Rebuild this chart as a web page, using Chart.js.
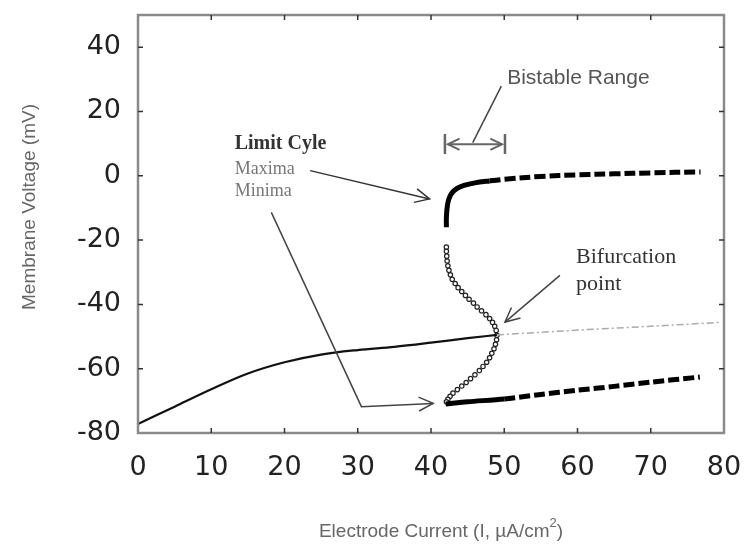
<!DOCTYPE html>
<html>
<head>
<meta charset="utf-8">
<script src="https://cdn.jsdelivr.net/npm/chart.js@4.4.1/dist/chart.umd.min.js"></script>
<style>
  html, body { margin: 0; padding: 0; background: #fff; }
</style>
</head>
<body>
<canvas id="chart" width="752" height="550"></canvas>
<script>
// resting potential (stable fixed point) up to the bifurcation
const restX = [0, 5, 10, 15, 20, 25, 30, 35, 40, 45, 49];
const restV = [-77.2, -71.8, -66.4, -61.5, -58, -55.6, -54.2, -53.2, -51.9, -50.5, -49.5];

// fixed point after it loses stability
const unstableX = [49, 60, 70, 79.5];
const unstableV = [-49.5, -48, -46.8, -45.6];

// stable limit cycle maxima / minima
const maxX = [42.1, 42.1, 42.2, 42.4, 42.8, 43.5, 44.5, 46, 48, 50, 55, 60, 65, 70, 76.8];
const maxV = [-16, -13, -10, -7.5, -5.5, -4, -3, -2.2, -1.6, -1.1, -0.2, 0.3, 0.6, 0.9, 1.2];
const minX = [42, 45, 50, 55, 60, 65, 70, 76.7];
const minV = [-71, -70.3, -69.4, -68, -66.7, -65.5, -64.2, -62.6];

// unstable limit cycle (open circles)
const cycX = [42.1, 42.1, 42.15, 42.2, 42.3, 42.45, 42.65, 42.9, 43.3, 43.7, 44.2, 44.7, 45.2, 45.8, 46.3,
              46.9, 47.5, 48, 48.4, 48.7, 48.9, 49, 48.95, 48.8, 48.6, 48.3, 48, 47.6, 47.1, 46.6,
              46, 45.4, 44.8, 44.2, 43.6, 43, 42.6, 42.3, 42.1];
const cycV = [-22.2, -23.5, -25, -26.5, -28, -29.4, -30.8, -32.2, -33.5, -34.8, -36, -37.2, -38.4, -39.6, -40.8,
              -42, -43.2, -44.4, -45.6, -46.8, -48.1, -49.6, -51, -52.4, -53.8, -55.2, -56.6, -58, -59.3, -60.6,
              -61.9, -63.1, -64.3, -65.4, -66.5, -67.6, -68.6, -69.5, -70.3];

const xTicks = [0, 10, 20, 30, 40, 50, 60, 70, 80];
const yTicks = [-80, -60, -40, -20, 0, 20, 40];

const pts = (xs, ys) => xs.map((x, i) => ({ x: x, y: ys[i] }));

// annotation anchors, in data units
const notes = [
    { text: "Bistable Range", x: 50.4, y: 30.4, font: "21px 'Liberation Sans'", color: "#555" },
    { text: "Limit Cyle", x: 13.2, y: 10, font: "bold 20px 'Liberation Serif'", color: "#333" },
    { text: "Maxima", x: 13.2, y: 2.1, font: "18px 'Liberation Serif'", color: "#777" },
    { text: "Minima", x: 13.2, y: -4.9, font: "18px 'Liberation Serif'", color: "#777" },
    { text: "Bifurcation", x: 59.8, y: -25.4, font: "22px 'Liberation Serif'", color: "#333" },
    { text: "point", x: 59.8, y: -33.6, font: "22px 'Liberation Serif'", color: "#333" }
];
const arrows = [
    { path: [[23.5, 1.6], [39.8, -7.2]], color: "#333" },
    { path: [[18.2, -11.4], [30.5, -71.8], [40.3, -70.8]], color: "#444" },
    { path: [[57.6, -31], [50.1, -45.5]], color: "#444" }
];

function head(ctx, x0, y0, x1, y1, len) {
    const a = Math.atan2(y1 - y0, x1 - x0);
    ctx.beginPath();
    ctx.moveTo(x1 - len * Math.cos(a - 0.45), y1 - len * Math.sin(a - 0.45));
    ctx.lineTo(x1, y1);
    ctx.lineTo(x1 - len * Math.cos(a + 0.45), y1 - len * Math.sin(a + 0.45));
    ctx.stroke();
}

const decor = {
    id: "decor",
    afterDatasetsDraw(chart) {
        const ctx = chart.ctx;
        const xs = chart.scales.x, ys = chart.scales.y;
        const area = chart.chartArea;
        const X = v => xs.getPixelForValue(v), Y = v => ys.getPixelForValue(v);
        ctx.save();

        // frame
        ctx.strokeStyle = "#8a8a8a";
        ctx.lineWidth = 2.5;
        ctx.strokeRect(area.left, area.top, area.right - area.left, area.bottom - area.top);

        // inward tick marks on all four sides
        ctx.strokeStyle = "#333";
        ctx.lineWidth = 1.5;
        ctx.beginPath();
        xTicks.slice(1, -1).forEach(v => {
            ctx.moveTo(X(v), area.bottom); ctx.lineTo(X(v), area.bottom - 5);
            ctx.moveTo(X(v), area.top); ctx.lineTo(X(v), area.top + 5);
        });
        yTicks.slice(1).forEach(v => {
            ctx.moveTo(area.left, Y(v)); ctx.lineTo(area.left + 5, Y(v));
            ctx.moveTo(area.right, Y(v)); ctx.lineTo(area.right - 5, Y(v));
        });
        ctx.stroke();

        // text notes
        ctx.textAlign = "left";
        ctx.textBaseline = "middle";
        notes.forEach(n => {
            ctx.font = n.font;
            ctx.fillStyle = n.color;
            ctx.fillText(n.text, X(n.x), Y(n.y));
        });

        // arrows
        ctx.lineWidth = 1.5;
        arrows.forEach(a => {
            ctx.strokeStyle = a.color;
            ctx.beginPath();
            a.path.forEach((p, i) => i ? ctx.lineTo(X(p[0]), Y(p[1])) : ctx.moveTo(X(p[0]), Y(p[1])));
            ctx.stroke();
            const p0 = a.path[a.path.length - 2], p1 = a.path[a.path.length - 1];
            head(ctx, X(p0[0]), Y(p0[1]), X(p1[0]), Y(p1[1]), 16);
        });

        // bistable range marker |<-->|
        ctx.strokeStyle = "#666";
        ctx.lineWidth = 2.5;
        ctx.beginPath();
        [41.9, 50.1].forEach(v => { ctx.moveTo(X(v), Y(13)); ctx.lineTo(X(v), Y(6.8)); });
        ctx.stroke();
        ctx.lineWidth = 2;
        ctx.beginPath();
        ctx.moveTo(X(42.3), Y(9.8)); ctx.lineTo(X(49.7), Y(9.8));
        ctx.stroke();
        head(ctx, X(49.7), Y(9.8), X(42.3), Y(9.8), 13);
        head(ctx, X(42.3), Y(9.8), X(49.7), Y(9.8), 13);
        ctx.lineWidth = 1.5;
        ctx.strokeStyle = "#444";
        ctx.beginPath();
        ctx.moveTo(X(49.6), Y(27.9)); ctx.lineTo(X(45.7), Y(10.3));
        ctx.stroke();

        // axis titles
        ctx.fillStyle = "#666";
        ctx.font = "19px 'Liberation Sans'";
        ctx.textAlign = "center";
        ctx.save();
        ctx.translate(30, 207);
        ctx.rotate(-Math.PI / 2);
        ctx.fillText("Membrane Voltage (mV)", 0, 0);
        ctx.restore();

        const main = "Electrode Current (I, \u00b5A/cm";
        ctx.font = "19px 'Liberation Sans'";
        const w1 = ctx.measureText(main).width;
        const w2 = ctx.measureText(")").width;
        ctx.font = "13px 'Liberation Sans'";
        const ws = ctx.measureText("2").width;
        const x0 = 441 - (w1 + ws + w2) / 2;
        ctx.textAlign = "left";
        ctx.font = "19px 'Liberation Sans'";
        ctx.fillText(main, x0, 532);
        ctx.font = "13px 'Liberation Sans'";
        ctx.fillText("2", x0 + w1, 523);
        ctx.font = "19px 'Liberation Sans'";
        ctx.fillText(")", x0 + w1 + ws, 532);

        ctx.restore();
    }
};

// keep label overflow from pushing the plot area around
function fixPad(s) {
    s.paddingTop = 0; s.paddingBottom = 0; s.paddingLeft = 0; s.paddingRight = 0;
}

new Chart(document.getElementById("chart"), {
    type: "scatter",
    data: {
        datasets: [
            {
                data: pts(unstableX, unstableV),
                showLine: true,
                borderColor: "#aaa",
                borderWidth: 1.5,
                borderDash: [7, 3, 2, 3],
                pointRadius: 0
            },
            {
                data: pts(restX, restV),
                showLine: true,
                borderColor: "#111",
                borderWidth: 2.2,
                cubicInterpolationMode: "monotone",
                pointRadius: 0
            },
            {
                data: pts(maxX, maxV),
                showLine: true,
                borderColor: "#000",
                borderWidth: 5,
                tension: 0.35,
                pointRadius: 0,
                segment: { borderDash: c => c.p0.parsed.x >= 48 ? [11, 4] : undefined }
            },
            {
                data: pts(minX, minV),
                showLine: true,
                borderColor: "#000",
                borderWidth: 5,
                tension: 0.3,
                pointRadius: 0,
                segment: { borderDash: c => c.p0.parsed.x >= 47 ? [11, 4] : undefined }
            },
            {
                data: pts(cycX, cycV),
                showLine: false,
                pointRadius: 2.2,
                pointBorderWidth: 1.2,
                pointBorderColor: "#222",
                pointBackgroundColor: "#fff"
            }
        ]
    },
    options: {
        responsive: false,
        animation: false,
        devicePixelRatio: 1,
        layout: { padding: { top: 15, right: 28, left: 0, bottom: 0 } },
        plugins: { legend: { display: false }, tooltip: { enabled: false } },
        scales: {
            x: {
                type: "linear",
                min: 0,
                max: 80,
                afterBuildTicks: s => { s.ticks = xTicks.map(v => ({ value: v })); },
                afterFit: s => { s.height = 117; fixPad(s); },
                grid: { display: false, drawTicks: false },
                border: { display: false },
                ticks: { color: "#222", padding: 19, maxRotation: 0, font: { family: "DejaVu Sans", size: 27 } }
            },
            y: {
                type: "linear",
                min: -80,
                max: 50,
                afterBuildTicks: s => { s.ticks = yTicks.map(v => ({ value: v })); },
                afterFit: s => { s.width = 138; fixPad(s); },
                grid: { display: false, drawTicks: false },
                border: { display: false },
                ticks: { color: "#222", padding: 17, font: { family: "DejaVu Sans", size: 27 } }
            }
        }
    },
    plugins: [decor]
});
</script>
</body>
</html>
